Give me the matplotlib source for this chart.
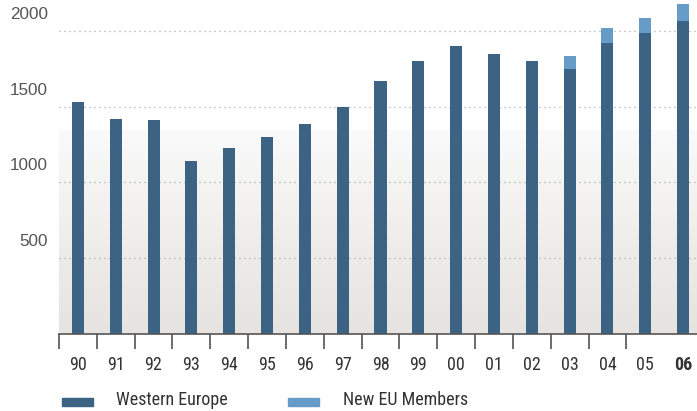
import numpy as np
import matplotlib
matplotlib.use("Agg")
import matplotlib.pyplot as plt
from matplotlib import font_manager
from matplotlib.patches import Rectangle
from matplotlib.colors import LinearSegmentedColormap

# Data
years = ["90", "91", "92", "93", "94", "95", "96", "97", "98",
         "99", "00", "01", "02", "03", "04", "05", "06"]
western_europe = [1530, 1418, 1411, 1141, 1226, 1299, 1385, 1497, 1669,
                  1801, 1897, 1845, 1801, 1748, 1920, 1986, 2066]
new_eu_members = [0, 0, 0, 0, 0, 0, 0, 0, 0,
                  0, 0, 0, 0, 86, 99, 99, 112]
y_ticks = [500, 1000, 1500, 2000]

DARK = "#3c6383"
LIGHT = "#679cc8"
W, H = 697, 411


def find_narrow_font(weight="normal"):
    """Return the file of the first condensed font that is installed."""
    candidates = [("Roboto Condensed", "normal"), ("Liberation Sans Narrow", "normal"),
                  ("DejaVu Sans", "condensed"), ("Noto Sans", "condensed"),
                  ("Open Sans", "condensed"), ("Roboto", "condensed"),
                  ("Inter", "condensed")]
    for family, stretch in candidates:
        fp = font_manager.FontProperties(family=family, stretch=stretch, weight=weight)
        try:
            path = font_manager.findfont(fp, fallback_to_default=False)
        except ValueError:
            continue
        low = path.lower()
        if "condensed" in low or "narrow" in low:
            return path
    return None


narrow_regular = find_narrow_font("normal")
narrow_bold = find_narrow_font("bold")


def narrow_props(size, bold=False):
    path = narrow_bold if bold else narrow_regular
    if path:
        return font_manager.FontProperties(fname=path, size=size)
    return font_manager.FontProperties(family="Liberation Sans", size=size,
                                       weight="bold" if bold else "normal")


fig = plt.figure(figsize=(W / 100, H / 100), dpi=100)
ax = fig.add_axes([59 / W, (H - 333.6) / H, 638 / W, 333.6 / H])

x = np.arange(len(years))
ax.set_xlim(-0.5, len(years) - 0.5 - 5 / 37.8)
ax.set_ylim(0, 2204)

# background gradient in the lower part of the plot
grad = np.linspace(0, 1, 256).reshape(-1, 1)
cmap = LinearSegmentedColormap.from_list("bg", ["#e6e3e1", "#fafafa"])
ax.imshow(grad, cmap=cmap, aspect="auto", origin="lower",
          extent=(-0.5, len(years) - 0.5, 0, 1345), zorder=0)

for v in y_ticks:
    ax.axhline(v, color="#9a9a9a", lw=0.9, ls=(0, (0.8, 3.2)), zorder=1)
    ax.annotate(str(v), xy=(0, v), xycoords=("axes fraction", "data"),
                xytext=(-11, 16.5), textcoords="offset pixels",
                ha="right", va="center", fontsize=12.3,
                fontfamily="Liberation Sans", color="#555555")

bw = 12 / 37.8
ax.bar(x, western_europe, width=bw, color=DARK, zorder=2)
ax.bar(x, new_eu_members, width=bw, bottom=western_europe, color=LIGHT, zorder=2)

for s in ["top", "right", "left"]:
    ax.spines[s].set_visible(False)
ax.spines["bottom"].set_color("#555555")
ax.spines["bottom"].set_linewidth(1.2)
ax.set_yticks([])

ax.set_xticks(x)
ax.set_xticklabels(years, color="#333333")
for i, lab in enumerate(ax.get_xticklabels()):
    lab.set_fontproperties(narrow_props(13, bold=(i == len(years) - 1)))
ax.tick_params(axis="x", which="major", length=0, pad=16)
ax.set_xticks(x[:-1] - 0.5, minor=True)
ax.tick_params(axis="x", which="minor", length=11, width=1.1, color="#444444")

# legend
for (x0, text_x, color, label) in [(62, 116, DARK, "Western Europe"),
                                   (288, 343, LIGHT, "New EU Members")]:
    fig.patches.append(Rectangle((x0 / W, (H - 406) / H), 31 / W, 8 / H,
                                 transform=fig.transFigure, color=color))
    fig.text(text_x / W, (H - 400) / H, label, ha="left", va="center",
             fontproperties=narrow_props(13), color="#333333")

fig.savefig("out.png", dpi=100)
